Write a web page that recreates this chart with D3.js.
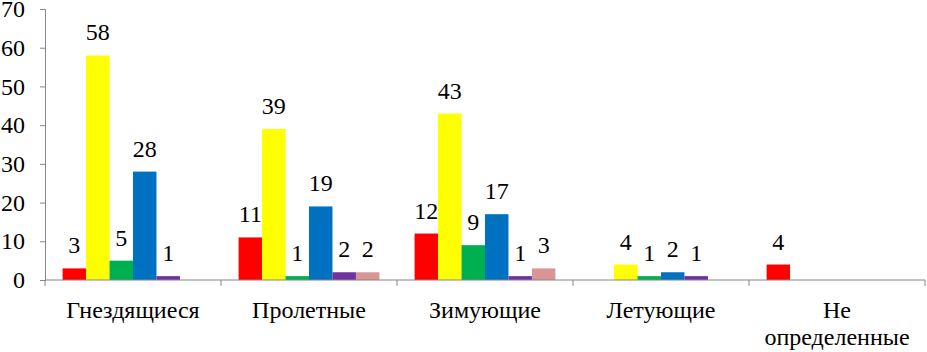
<!DOCTYPE html>
<html>
<head>
<meta charset="utf-8">
<script src="https://cdn.jsdelivr.net/npm/d3@7"></script>
<style>
  body { margin: 0; background: #fff; }
  svg { display: block; }
</style>
</head>
<body>
<svg id="chart" width="927" height="352" font-family="Liberation Serif, DejaVu Serif, serif"></svg>
<script>
// categories and series (null = no bar)
var categories = ["Гнездящиеся", "Пролетные", "Зимующие", "Летующие", "Не определенные"];
var seriesNames = ["s1", "s2", "s3", "s4", "s5", "s6"];
var seriesColors = ["#FF0000", "#FFFF00", "#00B050", "#0070C0", "#7030A0", "#D99694"];
var s1 = [3, 11, 12, null, 4];
var s2 = [58, 39, 43, 4, null];
var s3 = [5, 1, 9, 1, null];
var s4 = [28, 19, 17, 2, null];
var s5 = [1, 2, 1, 1, null];
var s6 = [null, 2, 3, null, null];
var yTicks = [0, 10, 20, 30, 40, 50, 60, 70];

var allSeries = [s1, s2, s3, s4, s5, s6];
var serif = 'Liberation Serif, DejaVu Serif, serif';

var svg = d3.select('#chart');
var mLeft = 45, mRight = 925, mTop = 9, mBottom = 280;

var x0 = d3.scaleBand()
    .domain(categories)
    .range([mLeft, mRight])
    .paddingInner(0)
    .paddingOuter(0);

var x1 = d3.scaleBand()
    .domain(seriesNames)
    .range([x0.bandwidth() * 0.1, x0.bandwidth() * 0.9])
    .padding(0);

var y = d3.scaleLinear()
    .domain([0, 70])
    .range([mBottom, mTop]);

// y axis
var yAxis = svg.append('g')
    .attr('transform', 'translate(' + mLeft + ',0)')
    .call(d3.axisLeft(y).tickValues(yTicks).tickSize(5).tickPadding(15));
yAxis.attr('font-family', serif).attr('font-size', 24);
yAxis.selectAll('line, path').attr('stroke', '#868686');
yAxis.selectAll('text').attr('fill', '#000').attr('font-family', serif);

// bars
var rows = [];
allSeries.forEach(function(vals, si) {
    vals.forEach(function(v, ci) {
        if (v !== null) rows.push({cat: categories[ci], s: seriesNames[si], color: seriesColors[si], v: v});
    });
});

svg.append('g').selectAll('rect')
    .data(rows)
    .enter()
    .append('rect')
    .attr('x', function(d) { return x0(d.cat) + x1(d.s); })
    .attr('y', function(d) { return y(d.v); })
    .attr('width', x1.bandwidth())
    .attr('height', function(d) { return y(0) - y(d.v); })
    .attr('fill', function(d) { return d.color; });

svg.append('g').selectAll('text')
    .data(rows)
    .enter()
    .append('text')
    .attr('x', function(d) { return x0(d.cat) + x1(d.s) + x1.bandwidth() / 2; })
    .attr('y', function(d) { return y(d.v) - 15; })
    .attr('text-anchor', 'middle')
    .attr('font-family', serif)
    .attr('font-size', 24)
    .text(function(d) { return d.v; });

// x axis
var xg = svg.append('g');
xg.append('line')
    .attr('x1', mLeft).attr('x2', mRight)
    .attr('y1', y(0)).attr('y2', y(0))
    .attr('stroke', '#868686');
var bounds = categories.map(function(c) { return x0(c); }).concat([mRight]);
xg.selectAll('line.tick')
    .data(bounds)
    .enter()
    .append('line')
    .attr('class', 'tick')
    .attr('x1', function(d) { return d; }).attr('x2', function(d) { return d; })
    .attr('y1', y(0)).attr('y2', y(0) + 6)
    .attr('stroke', '#868686');

var labels = xg.selectAll('text.cat')
    .data(categories)
    .enter()
    .append('text')
    .attr('class', 'cat')
    .attr('text-anchor', 'middle')
    .attr('x', function(d) { return x0(d) + x0.bandwidth() / 2; })
    .attr('y', 318)
    .attr('font-family', serif)
    .attr('font-size', 24);
labels.each(function(d) {
    var words = d.split(' ');
    var t = d3.select(this);
    words.forEach(function(w, i) {
        t.append('tspan')
            .attr('x', t.attr('x'))
            .attr('dy', i === 0 ? 0 : 27)
            .text(w);
    });
});
</script>
</body>
</html>
